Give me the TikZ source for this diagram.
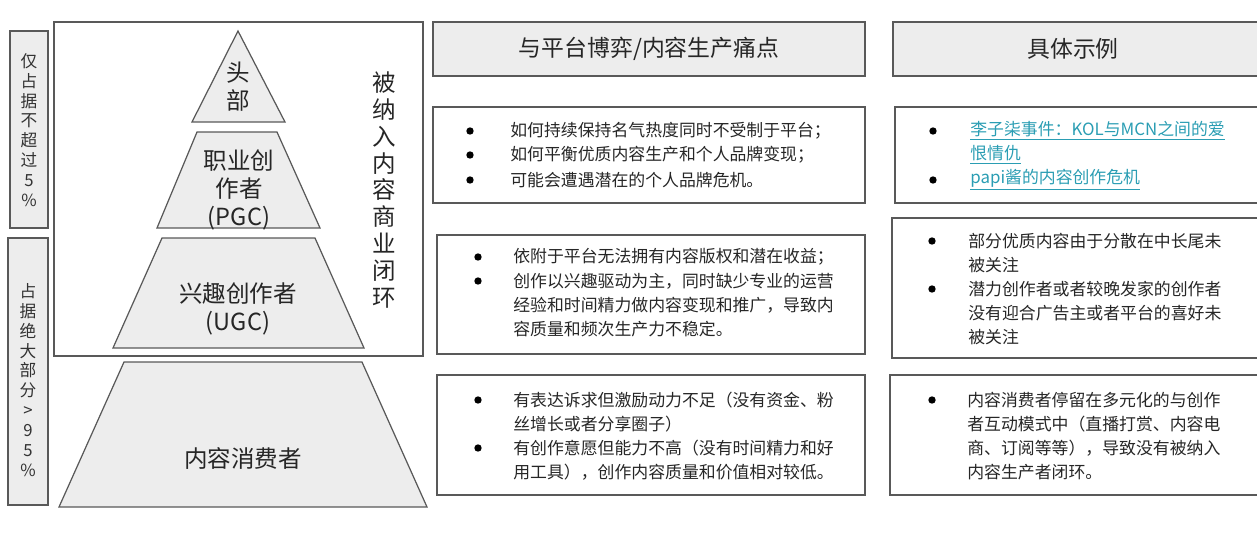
\documentclass[tikz,border=0pt]{standalone}
\usepackage{fontspec}
\setmainfont{Noto Sans CJK SC}
\definecolor{lnk}{HTML}{2A9DB3}
\begin{document}
\begin{tikzpicture}[x=0.02cm,y=-0.02cm,
  box/.style={draw=black!65,line width=0.7pt},
  shp/.style={draw=black!65,fill=black!7,line width=0.7pt},
  ln/.style={anchor=west,inner sep=0,font=\fontsize{9.6}{9.6}\selectfont,text=black!85},
  lk/.style={ln,text=lnk},
  bl/.style={circle,fill=black,inner sep=0,minimum size=4.2pt},
  big/.style={font=\fontsize{13.4}{16}\selectfont,align=center,text=black!85,inner sep=0},
  side/.style={font=\fontsize{9.5}{11.3}\selectfont,align=center,text=black!80,inner sep=0}]
\useasboundingbox (0,0) rectangle (1257,538);
% left boxes
\draw[shp] (10,31) rectangle (48,228);
\node[side] (s1) at (29,130) {仅\\占\\据\\不\\超\\过\\5\\\%};
\draw[shp] (8,238) rectangle (48,505);
\node[side] (s2) at (28,380) {占\\据\\绝\\大\\部\\分\\>\\9\\5\\\%};
% big box
\draw[box] (54,22) rectangle (423,356);
\draw[shp] (238,31) -- (285,122) -- (192,122) -- cycle;
\node[big] (t1) at (238,87) {头\\部};
\draw[shp] (197,132) -- (277,132) -- (320,228) -- (157,228) -- cycle;
\node[big] (t2) at (239,190) {职业创\\作者\\(PGC)};
\draw[shp] (162,238) -- (315,238) -- (364,348) -- (113,348) -- cycle;
\node[big] (t3) at (238,309) {兴趣创作者\\(UGC)};
\draw[shp] (124,362) -- (362,362) -- (427,507) -- (59,507) -- cycle;
\node[big] (t4) at (243,458) {内容消费者};
\node[big,font=\fontsize{13.4}{15.3}\selectfont] (sd) at (384,190) {被\\纳\\入\\内\\容\\商\\业\\闭\\环};
% headers
\draw[shp] (433,22) rectangle (865,76);
\node[big,font=\fontsize{13}{15}\selectfont] (h1) at (649,49) {与平台博弈/内容生产痛点};
\draw[shp] (893,22) rectangle (1262,76);
\node[big,font=\fontsize{13}{15}\selectfont] (h2) at (1073,49) {具体示例};
% middle column
\draw[box] (433,107) rectangle (865,203);
\node[bl] at (470,131) {}; \node[ln] at (510,131) {如何持续保持名气热度同时不受制于平台；};
\node[bl] at (470,155) {}; \node[ln] at (510,155) {如何平衡优质内容生产和个人品牌变现；};
\node[bl] at (470,180) {}; \node[ln] at (510,180) {可能会遭遇潜在的个人品牌危机。};
\draw[box] (437,235) rectangle (865,354);
\node[bl] at (478,257) {}; \node[ln] at (513,257) {依附于平台无法拥有内容版权和潜在收益；};
\node[bl] at (478,281) {}; \node[ln] at (513,281) {创作以兴趣驱动为主，同时缺少专业的运营};
\node[ln] at (513,305) {经验和时间精力做内容变现和推广，导致内};
\node[ln] at (513,329) {容质量和频次生产力不稳定。};
\draw[box] (437,375) rectangle (865,495);
\node[bl] at (478,400) {}; \node[ln] at (513,400) {有表达诉求但激励动力不足（没有资金、粉};
\node[ln] at (513,424) {丝增长或者分享圈子）};
\node[bl] at (478,448) {}; \node[ln] at (513,448) {有创作意愿但能力不高（没有时间精力和好};
\node[ln] at (513,472) {用工具），创作内容质量和价值相对较低。};
% right column
\draw[box] (895,107) rectangle (1262,203);
\node[bl] at (933,131) {}; \node[lk] at (970,131) {\underline{李子柒事件：KOL与MCN之间的爱}};
\node[lk] at (970,155) {\underline{恨情仇}};
\node[bl] at (933,180) {}; \node[lk] at (970,180) {\underline{papi酱的内容创作危机}};
\draw[box] (892,218) rectangle (1262,358);
\node[bl] at (932,241) {}; \node[ln] at (968,241) {部分优质内容由于分散在中长尾未};
\node[ln] at (968,265) {被关注};
\node[bl] at (932,289) {}; \node[ln] at (968,289) {潜力创作者或者较晚发家的创作者};
\node[ln] at (968,313) {没有迎合广告主或者平台的喜好未};
\node[ln] at (968,337) {被关注};
\draw[box] (890,375) rectangle (1262,495);
\node[bl] at (932,400) {}; \node[ln] at (967,400) {内容消费者停留在多元化的与创作};
\node[ln] at (967,424) {者互动模式中（直播打赏、内容电};
\node[ln] at (967,448) {商、订阅等等），导致没有被纳入};
\node[ln] at (967,472) {内容生产者闭环。};
\end{tikzpicture}
\end{document}
